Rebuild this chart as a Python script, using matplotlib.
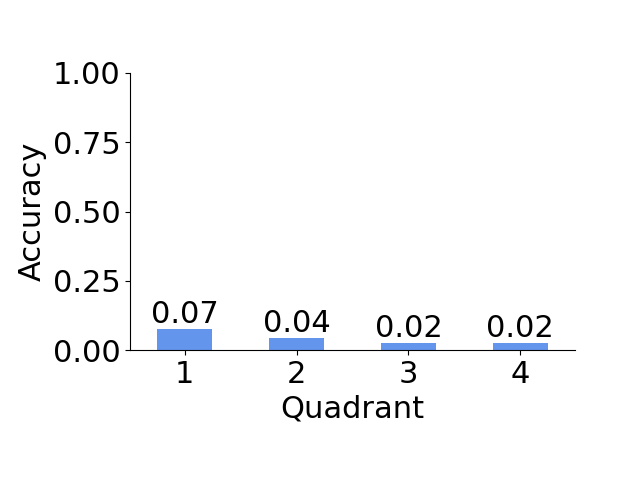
import matplotlib
matplotlib.use("Agg")
import matplotlib.pyplot as plt

quadrants = [1, 2, 3, 4]
accuracy = [0.076, 0.043, 0.026, 0.026]
labels = ["0.07", "0.04", "0.02", "0.02"]

fig = plt.figure(figsize=(6.4, 4.8), dpi=100)
ax = fig.add_axes([130 / 640, 130 / 480, 445 / 640, 277 / 480])

bars = ax.bar(quadrants, accuracy, width=0.49, color="cornflowerblue")
ax.bar_label(bars, labels=labels, fontsize=22, padding=0)

ax.set_ylim(0, 1)
ax.set_xlim(0.51, 4.49)
ax.set_xticks(quadrants)
ax.set_yticks([0, 0.25, 0.5, 0.75, 1.0])
ax.set_yticklabels(["0.00", "0.25", "0.50", "0.75", "1.00"])
ax.tick_params(labelsize=22)
ax.set_xlabel("Quadrant", fontsize=22)
ax.set_ylabel("Accuracy", fontsize=22)
ax.spines["top"].set_visible(False)
ax.spines["right"].set_visible(False)

fig.savefig("out.png", dpi=100)
